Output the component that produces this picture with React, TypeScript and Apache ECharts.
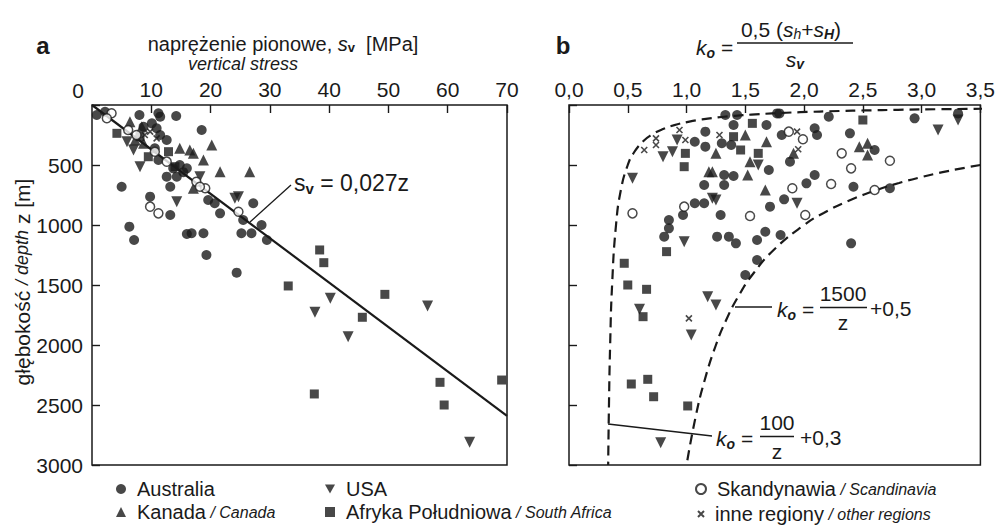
import React, { useEffect, useRef } from 'react';
import * as echarts from 'echarts';

// ---- tick labels ----
const stressTicks: Record<number, string> = { 0: '0', 10: '10', 20: '20', 30: '30', 40: '40', 50: '50', 60: '60', 70: '70' };
const koTicks: Record<number, string> = { 0: '0,0', 0.5: '0,5', 1: '1,0', 1.5: '1,5', 2: '2,0', 2.5: '2,5', 3: '3,0', 3.5: '3,5' };
const depthTicks: Record<number, string> = { 0: '', 500: '500', 1000: '1000', 1500: '1500', 2000: '2000', 2500: '2500', 3000: '3000' };

// ---- panel a: [vertical stress MPa, depth m] ----
const ausA = [
  [0.8, 83], [2.2, 56], [8.0, 83], [11.2, 69], [11.5, 97], [14.2, 92], [10.1, 153], [10.9, 194], [11.5, 250],
  [8.7, 181], [18.5, 208], [12.6, 292], [10.6, 361], [11.2, 458], [13.7, 528], [16.0, 528], [12.6, 597],
  [14.3, 597], [13.2, 681], [5.0, 681], [9.8, 764], [19.6, 792], [20.7, 819], [21.6, 903], [13.2, 917],
  [25.5, 958], [27.2, 819], [28.6, 1000], [29.5, 1125], [25.2, 1069], [26.9, 1069], [16.0, 1075], [16.8, 1069],
  [18.8, 1069], [6.3, 1014], [7.1, 1125], [19.3, 1250], [24.4, 1397], [14.8, 500], [15.4, 560],
];
const canA = [
  [6.4, 139], [8.4, 181], [14.8, 361], [16.5, 375], [17.1, 403], [20.2, 333], [18.8, 458], [21.6, 556],
  [26.6, 556], [17.1, 694], [7.3, 292], [8.7, 319],
];
const usaA = [
  [5.9, 306], [7.0, 375], [8.1, 514], [18.2, 597], [14.3, 806], [24.1, 778], [24.7, 764],
  [40.2, 1611], [37.6, 1728], [43.2, 1931], [56.6, 1675], [63.7, 2811],
];
const safA = [
  [4.2, 236], [12.9, 389], [9.5, 431], [14.0, 514], [8.1, 264],
  [38.4, 1208], [39.1, 1314], [33.1, 1508], [49.4, 1578], [45.6, 1769], [58.7, 2311], [59.4, 2500],
  [69.1, 2292], [37.5, 2408],
];
const scaA = [
  [3.3, 69], [2.5, 111], [6.1, 208], [7.5, 250], [10.6, 389], [12.6, 472], [17.6, 639], [19.1, 694],
  [18.2, 681], [9.8, 847], [11.2, 903], [24.7, 889],
];
const othA = [[9.8, 222], [10.9, 278], [8.9, 250]];
const svLine = [[0, 0], [70, 2590]];

// ---- panel b: [k0, depth m] ----
const ausB = [
  [1.33, 83], [1.43, 83], [1.40, 167], [1.68, 167], [1.77, 70], [1.16, 222], [1.07, 306], [1.16, 347],
  [1.30, 319], [1.38, 333], [1.70, 542], [1.32, 583], [1.40, 592], [1.15, 667], [1.32, 667], [1.07, 819],
  [1.15, 819], [0.97, 917], [0.85, 958], [0.85, 1028], [0.81, 1097], [1.29, 917], [1.26, 1097], [1.36, 1097],
  [1.42, 1153], [1.60, 1125], [1.67, 1056], [1.71, 847], [1.60, 1292], [1.50, 1417],
  [1.79, 70], [2.21, 97], [2.09, 194], [2.11, 250], [1.81, 250], [2.39, 236], [2.94, 111], [3.31, 70],
  [2.60, 375], [1.88, 472], [2.09, 583], [2.02, 653], [2.42, 681], [2.73, 694], [1.83, 786], [1.80, 1083],
  [2.40, 1153],
];
const canB = [
  [1.50, 250], [1.68, 306], [1.25, 403], [1.54, 472], [1.19, 556], [1.22, 556], [1.52, 583], [1.67, 708],
  [2.47, 347], [2.54, 319], [2.54, 417], [1.91, 403],
];
const usaB = [
  [0.54, 611], [0.80, 431], [0.88, 389], [0.92, 292], [1.22, 778], [1.25, 792], [0.98, 1139], [1.61, 500],
  [3.14, 208], [3.31, 125], [1.94, 819], [0.60, 1703], [1.18, 1597], [1.25, 1667], [1.04, 1917], [0.78, 2814],
];
const safB = [
  [1.56, 153], [1.40, 264], [1.46, 375], [1.61, 403], [0.99, 403], [0.98, 514], [0.83, 1222], [0.47, 1319],
  [0.50, 1500], [0.66, 1536], [2.50, 125], [0.63, 1764], [0.53, 2325], [0.67, 2286], [0.72, 2431], [1.01, 2508],
];
const scaB = [
  [0.54, 903], [1.54, 925], [0.98, 847], [1.87, 222], [1.99, 286], [2.32, 403], [2.40, 528], [2.73, 464],
  [1.90, 694], [2.23, 658], [2.01, 917], [2.60, 708],
];
const othB = [
  [0.64, 375], [0.74, 278], [0.74, 333], [0.94, 208], [0.99, 292], [1.28, 250], [1.94, 222], [1.95, 369],
  [1.02, 1778],
];
// depths at which the boundary curves k0 = 100/z + 0.3 and k0 = 1500/z + 0.5 are drawn
const innerDepths = [31, 35, 40, 45, 50, 60, 70, 80, 90, 100, 120, 140, 170, 200, 250, 300, 400, 500, 700, 1000, 1500, 2000, 2500, 3000];
const outerDepths = [500, 530, 560, 600, 650, 700, 800, 900, 1000, 1200, 1400, 1600, 1800, 2000, 2300, 2600, 3000];

const names = ['Australia', 'Kanada', 'USA', 'Afryka Południowa', 'Skandynawia', 'inne regiony'];
const legendText: Record<string, [string, string]> = {
  'Australia': ['Australia', ''],
  'Kanada': ['Kanada', 'Canada'],
  'USA': ['USA', ''],
  'Afryka Południowa': ['Afryka Południowa', 'South Africa'],
  'Skandynawia': ['Skandynawia', 'Scandinavia'],
  'inne regiony': ['inne regiony', 'other regions'],
};

const FONT = 'Liberation Sans, Arial, Helvetica, sans-serif';
const INK = '#1a1a1a';

const markerStyle: Record<string, any> = {
  'Australia': { symbol: 'circle', symbolSize: 10, itemStyle: { color: INK } },
  'Kanada': { symbol: 'triangle', symbolSize: 11, itemStyle: { color: INK } },
  'USA': { symbol: 'path://M0,0L10,0L5,9Z', symbolSize: 11, itemStyle: { color: INK } },
  'Afryka Południowa': { symbol: 'rect', symbolSize: 9, itemStyle: { color: INK } },
  'Skandynawia': { symbol: 'circle', symbolSize: 9, itemStyle: { color: '#fff', borderColor: INK, borderWidth: 1.5 } },
  'inne regiony': { symbol: 'path://M0,0L10,10M10,0L0,10', symbolSize: 6, itemStyle: { color: 'transparent', borderColor: INK, borderWidth: 1.6 } },
};

export default function App() {
  const ref = useRef<HTMLDivElement>(null);
  useEffect(() => {
    if (!ref.current) return;
    const chart = echarts.init(ref.current, null, { renderer: 'svg' });

    const dataA = [ausA, canA, usaA, safA, scaA, othA];
    const dataB = [ausB, canB, usaB, safB, scaB, othB];

    const scatter: any[] = [];
    names.forEach((n, i) => {
      scatter.push({ type: 'scatter', name: n, xAxisIndex: 0, yAxisIndex: 0, data: dataA[i], z: 5, ...markerStyle[n] });
      scatter.push({ type: 'scatter', name: n, xAxisIndex: 1, yAxisIndex: 1, data: dataB[i], z: 5, ...markerStyle[n] });
    });

    const inner = innerDepths.map((z) => [100 / z + 0.3, z]);
    const outer = outerDepths.map((z) => [1500 / z + 0.5, z]);

    const axisCommonX = (idx: number) => ({
      type: 'value', gridIndex: idx, position: 'top',
      axisLine: { show: false },
      axisTick: { show: true, inside: true, length: 8, lineStyle: { color: INK, width: 1.4 } },
      splitLine: { show: false },
    });
    const axisCommonY = (idx: number) => ({
      type: 'value', gridIndex: idx, inverse: true, min: 0, max: 3000, interval: 500,
      axisLine: { show: false },
      axisTick: { show: true, inside: true, length: 8, lineStyle: { color: INK, width: 1.4 } },
      splitLine: { show: false },
    });

    const rich = {
      g: { width: 6 },
      m: { fontSize: 20, fontFamily: FONT, color: INK, lineHeight: 22 },
      s: { fontSize: 16, fontStyle: 'italic', fontFamily: FONT, color: INK, lineHeight: 22 },
    };
    const legendFormatter = (name: string) => {
      const [a, b] = legendText[name];
      return `{g|}{m|${a}}` + (b ? `{s| / ${b}}` : '');
    };
    const legendBase = {
      orient: 'vertical', itemWidth: 10, itemHeight: 10, itemGap: 3, padding: 0, selectedMode: false,
      formatter: legendFormatter, textStyle: { rich },
    };

    const t = (text: string, x: number, y: number, extra: any = {}) => ({
      type: 'text', x, y, z: 10,
      style: { text, fill: INK, fontFamily: FONT, fontSize: 20, align: 'center', verticalAlign: 'middle', ...extra },
    });
    const ln = (x1: number, y1: number, x2: number, y2: number, w = 1.3) => ({
      type: 'line', z: 10, shape: { x1, y1, x2, y2 }, style: { stroke: INK, lineWidth: w },
    });
    const mkRich = (fs: number, sub: number, lh: number) => ({
      t: { fontSize: fs, fontFamily: FONT, color: INK, lineHeight: lh },
      i: { fontSize: fs, fontStyle: 'italic', fontFamily: FONT, color: INK, lineHeight: lh },
      sb: { fontSize: sub, fontWeight: 'bold', fontFamily: FONT, color: INK, lineHeight: sub, verticalAlign: 'bottom' },
      sbi: { fontSize: sub, fontWeight: 'bold', fontStyle: 'italic', fontFamily: FONT, color: INK, lineHeight: sub, verticalAlign: 'bottom' },
      si: { fontSize: sub, fontStyle: 'italic', fontFamily: FONT, color: INK, lineHeight: sub, verticalAlign: 'bottom' },
      it: { fontSize: fs - 3, fontStyle: 'italic', fontFamily: FONT, color: INK, lineHeight: lh },
    });
    const rt = (text: string, x: number, y: number, align = 'center', fs = 20, sub = 13, lh = 24) => ({
      type: 'text', x, y, z: 10,
      style: { text, rich: mkRich(fs, sub, lh), fill: INK, fontFamily: FONT, fontSize: fs, align, verticalAlign: 'middle' },
    });

    const graphic: any[] = [
      t('a', 43, 45, { fontWeight: 'bold', fontSize: 24 }),
      rt('{t|naprężenie pionowe, }{i|s}{sb|v}{t|  [MPa]}', 283, 44, 'center', 20, 13, 20),
      t('vertical stress', 243, 64, { fontStyle: 'italic', fontSize: 18 }),
      t('0', 78, 90, { fontSize: 21 }),
      {
        type: 'text', x: 22, y: 282, rotation: Math.PI / 2, z: 10,
        style: { text: '{t|głębokość }{it|/ depth}{t| z [m]}', rich: mkRich(21, 14, 24), fill: INK, fontFamily: FONT, fontSize: 21, align: 'center', verticalAlign: 'middle' },
      },
      rt('{t|s}{sb|v}{t| = 0,027z}', 294, 183, 'left', 23, 15, 26),
      ln(291, 185, 250, 222),
      t('b', 563, 45, { fontWeight: 'bold', fontSize: 24 }),
      rt('{i|k}{sbi|o}{t| =}', 696, 47, 'left', 21, 14, 26),
      rt('{t|0,5 (}{i|s}{si|h}{t|+}{i|s}{sbi|H}{t|)}', 791, 29, 'center', 21, 14, 24),
      ln(737, 43, 853, 43, 1.5),
      rt('{i|s}{sbi|v}', 795, 59, 'center', 21, 14, 24),
      // k0 = 1500/z + 0,5
      ln(735, 307, 772, 307),
      rt('{i|k}{sbi|o}{t| =}', 777, 309, 'left', 21, 14, 26),
      t('1500', 843, 293, { fontSize: 21 }),
      ln(820, 307.5, 867, 307.5, 1.5),
      t('z', 843, 322, { fontSize: 21 }),
      t('+0,5', 870, 308, { align: 'left', fontSize: 21 }),
      // k0 = 100/z + 0,3
      ln(608, 424, 712, 436),
      rt('{i|k}{sbi|o}{t| =}', 716, 438, 'left', 21, 14, 26),
      t('100', 777, 422, { fontSize: 21 }),
      ln(760, 436.5, 794, 436.5, 1.5),
      t('z', 777, 451, { fontSize: 21 }),
      t('+0,3', 800, 437, { align: 'left', fontSize: 21 }),
    ];

    chart.setOption({
      animation: false,
      backgroundColor: '#fff',
      textStyle: { fontFamily: FONT },
      grid: [
        { left: 92, top: 105, width: 415, height: 360, show: true, borderColor: INK, borderWidth: 1.5, backgroundColor: 'transparent' },
        { left: 569, top: 105, width: 414, height: 360, show: true, borderColor: INK, borderWidth: 1.5, backgroundColor: 'transparent' },
      ],
      xAxis: [
        {
          ...axisCommonX(0), min: 0, max: 70, interval: 10,
          axisLabel: { showMinLabel: false, fontSize: 21, color: INK, margin: 5, formatter: (v: number) => stressTicks[v] ?? '' },
        },
        {
          ...axisCommonX(1), min: 0, max: 3.5, interval: 0.5,
          axisLabel: { fontSize: 21, color: INK, margin: 5, formatter: (v: number) => koTicks[v] ?? '' },
        },
      ],
      yAxis: [
        { ...axisCommonY(0), axisLabel: { fontSize: 21, color: INK, margin: 9, formatter: (v: number) => depthTicks[v] ?? '' } },
        { ...axisCommonY(1), axisLabel: { show: false } },
      ],
      legend: [
        { ...legendBase, left: 116, top: 479, data: ['Australia', 'Kanada'] },
        { ...legendBase, left: 325, top: 479, data: ['USA', 'Afryka Południowa'] },
        { ...legendBase, left: 695, top: 479, data: ['Skandynawia'] },
        { ...legendBase, left: 697, top: 504, itemWidth: 6, itemHeight: 6, data: ['inne regiony'] },
      ],
      series: [
        ...scatter,
        {
          type: 'line', xAxisIndex: 0, yAxisIndex: 0, data: svLine, symbol: 'none', z: 3,
          lineStyle: { color: INK, width: 2.2 }, silent: true,
        },
        {
          type: 'line', xAxisIndex: 1, yAxisIndex: 1, data: inner, symbol: 'none', smooth: true, z: 3,
          lineStyle: { color: INK, width: 2.2, type: [10, 6] }, silent: true,
        },
        {
          type: 'line', xAxisIndex: 1, yAxisIndex: 1, data: outer, symbol: 'none', smooth: true, z: 3,
          lineStyle: { color: INK, width: 2.2, type: [10, 6] }, silent: true,
        },
      ],
      graphic,
    });
    return () => chart.dispose();
  }, []);
  return <div ref={ref} style={{ position: 'fixed', left: 0, top: 0, width: 998, height: 527 }} />;
}
